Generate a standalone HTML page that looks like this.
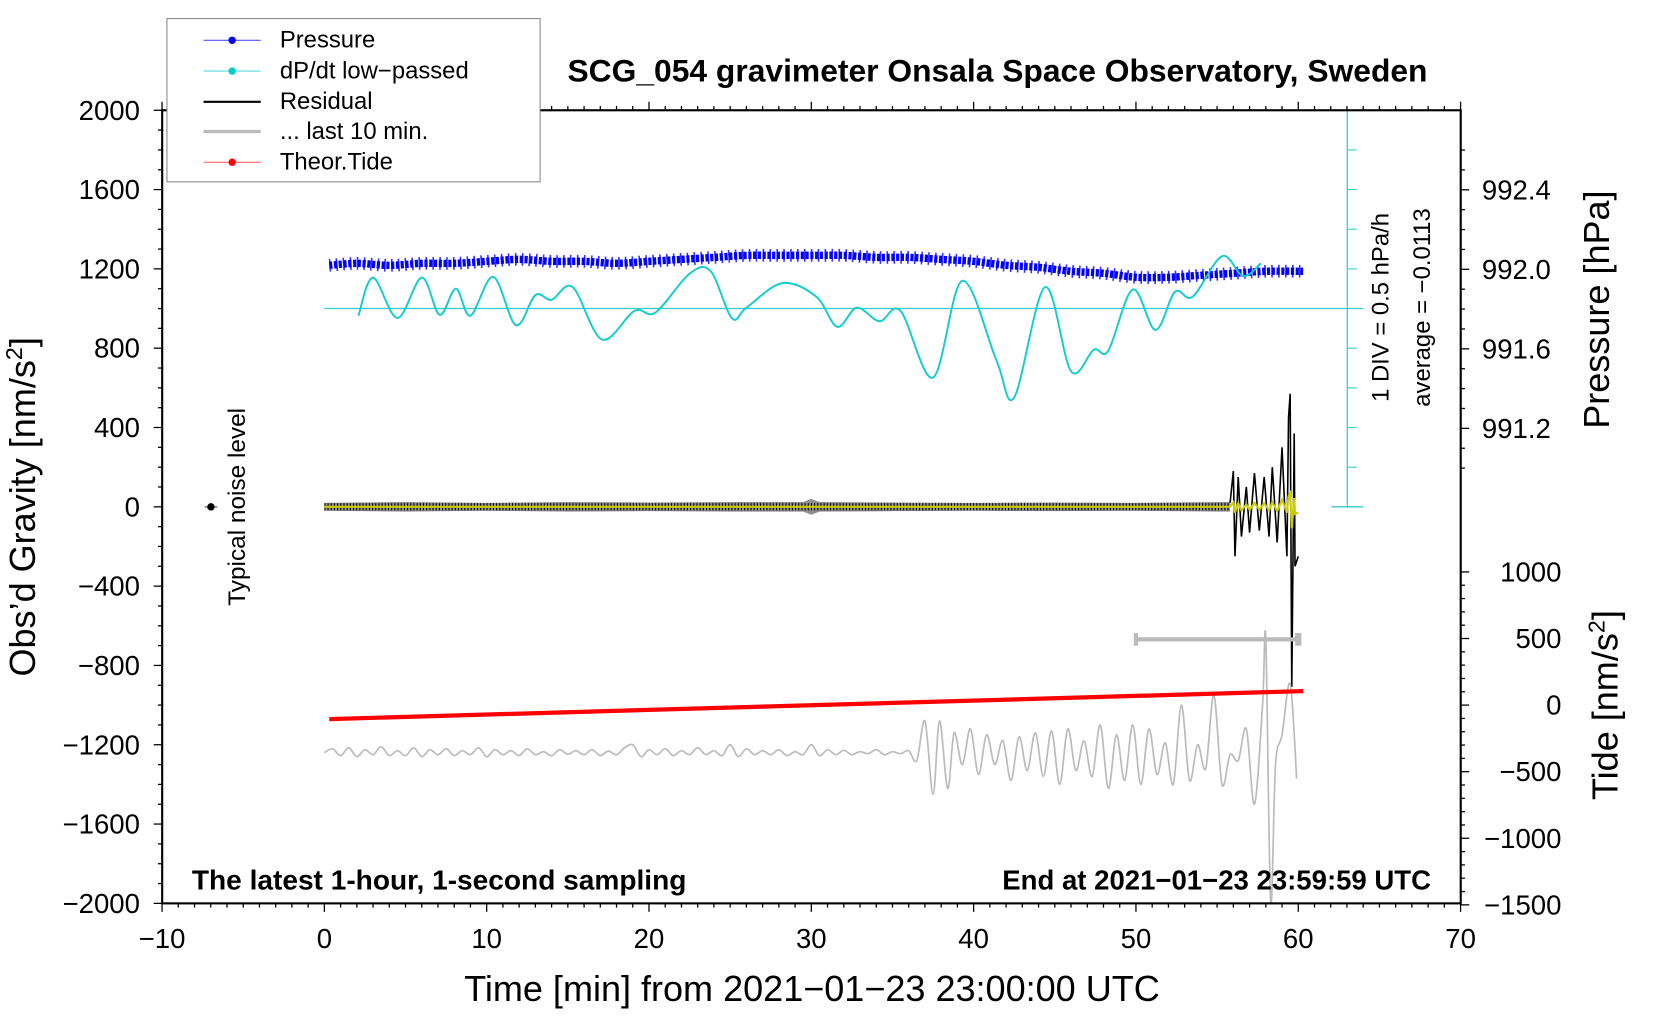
<!DOCTYPE html>
<html><head><meta charset="utf-8"><style>
html,body{margin:0;padding:0;background:#fff}
svg{display:block;font-family:"Liberation Sans",sans-serif}
</style></head><body>
<svg id="chart" width="1660" height="1020" viewBox="0 0 1566 962" preserveAspectRatio="none">
<g id="g-grid"></g>
<g id="g-series"></g>
<g id="g-axes"></g>
<text x="941" y="77" text-anchor="middle" font-size="30" font-weight="bold">SCG_054 gravimeter Onsala Space Observatory, Sweden</text>
<text x="181" y="839" font-size="26.5" font-weight="bold">The latest 1-hour, 1-second sampling</text>
<text x="1350" y="839" text-anchor="end" font-size="26" font-weight="bold">End at 2021−01−23 23:59:59 UTC</text>
<text x="766" y="944" text-anchor="middle" font-size="34">Time [min] from 2021−01−23 23:00:00 UTC</text>
<text transform="translate(33,478) rotate(-90)" text-anchor="middle" font-size="34">Obs’d Gravity [nm/s<tspan baseline-shift="super" font-size="22">2</tspan>]</text>
<text transform="translate(1518,292) rotate(-90)" text-anchor="middle" font-size="34">Pressure [hPa]</text>
<text transform="translate(1526,665) rotate(-90)" text-anchor="middle" font-size="34">Tide [nm/s<tspan baseline-shift="super" font-size="22">2</tspan>]</text>
<text transform="translate(231,478) rotate(-90)" text-anchor="middle" font-size="23">Typical noise level</text>
<text transform="translate(1310,290) rotate(-90)" text-anchor="middle" font-size="22.5">1 DIV = 0.5 hPa/h</text>
<text transform="translate(1349,290) rotate(-90)" text-anchor="middle" font-size="22.5">average = −0.0113</text>
<g>
<rect x="157.5" y="17.5" width="352" height="154" fill="#fff" stroke="#888" stroke-width="1"/>
<line x1="192" y1="38" x2="246" y2="38" stroke="#55f" stroke-width="1"/><circle cx="219" cy="38" r="3.5" fill="#00f"/>
<text x="264" y="45" font-size="22.5">Pressure</text>
<line x1="192" y1="67" x2="246" y2="67" stroke="#5dd" stroke-width="1"/><circle cx="219" cy="67" r="3.5" fill="#0cc"/>
<text x="264" y="74" font-size="22.5">dP/dt low−passed</text>
<line x1="192" y1="96" x2="246" y2="96" stroke="#000" stroke-width="2"/>
<text x="264" y="103" font-size="22.5">Residual</text>
<line x1="192" y1="124" x2="246" y2="124" stroke="#bbb" stroke-width="3"/>
<text x="264" y="131" font-size="22.5">... last 10 min.</text>
<line x1="192" y1="153" x2="246" y2="153" stroke="#f55" stroke-width="1"/><circle cx="219" cy="153" r="3.5" fill="#f00"/>
<text x="264" y="160" font-size="22.5">Theor.Tide</text>
</g>
</svg>
<script>
// ---- data ----
const pressT = [0.3,2,4,6,8,10,12,14,16,18,20,22,24,26,28,30,32,34,36,38,40,42,44,46,48,50,52,54,56,58,60.3];
const pressV = [992.02,992.03,992.02,992.03,992.03,992.04,992.05,992.04,992.04,992.03,992.04,992.05,992.06,992.07,992.07,992.07,992.07,992.06,992.06,992.05,992.04,992.02,992.01,991.99,991.98,991.96,991.96,991.97,991.98,991.99,991.99];
const dpT = [2.1,3.0,4.5,6.0,7.1,8.1,9.0,10.4,11.8,13,14,15.3,17.1,19.1,20.4,22.5,23.8,25.1,26,28.2,30.3,31.6,32.8,34.2,35.5,37.5,39.3,41.4,42.5,44.4,46,47.4,48.3,49.8,51.2,52.4,53.5,55.3,56.6,57.7];
const dpV = [-0.09,0.39,-0.12,0.39,-0.08,0.25,-0.09,0.40,-0.21,0.17,0.11,0.27,-0.39,-0.03,-0.05,0.44,0.47,-0.12,0.01,0.32,0.15,-0.23,0.01,-0.16,-0.03,-0.87,0.35,-0.65,-1.12,0.27,-0.79,-0.52,-0.53,0.24,-0.27,0.21,0.15,0.66,0.41,0.57];
const resT = [0,5,10,15,20,25,29.5,30,30.5,35,40,45,50,55,55.8];
const resAmp = [20,24,20,24,22,24,24,40,24,22,20,22,20,24,24];
const spikeT = [55.8,56.0,56.1,56.3,56.5,56.8,57.0,57.3,57.6,57.9,58.2,58.4,58.7,59.0,59.3,59.4,59.5,59.6,59.75,59.8,60.0];
const spikeV = [20,180,-250,150,-150,100,-130,170,-120,150,-150,200,-180,300,-250,450,570,-909,370,-300,-250];
const tideT = [0.3,60.3];
const tideV = [-105,105];
const greyT = [0,0.5,1,1.5,2,2.5,3,3.5,4,4.5,5,5.5,6,6.5,7,7.5,8,8.5,9,9.5,10,10.5,11,11.5,12,12.5,13,13.5,14,14.5,15,15.5,16,16.5,17,17.5,18,18.5,19,19.5,20,20.5,21,21.5,22,22.5,23,23.5,24,24.5,25,25.5,26,26.5,27,27.5,28,28.5,29,29.5,30,30.5,31,31.5,32,32.5,33,33.5,34,34.5,35,35.5,36,36.5,37,37.5,37.9,38.4,38.8,39.3,39.8,40.3,40.8,41.3,41.8,42.3,42.8,43.3,43.8,44.3,44.8,45.3,45.8,46.3,46.8,47.3,47.8,48.3,48.8,49.3,49.8,50.3,50.8,51.3,51.8,52.3,52.8,53.3,53.8,54.3,54.8,55.3,55.8,56.3,56.8,57.3,57.8,58.0,58.3,58.6,59.0,59.5,59.9];
const greyV = [-1240,-1220,-1255,-1215,-1260,-1225,-1250,-1210,-1255,-1230,-1255,-1215,-1260,-1225,-1250,-1220,-1255,-1230,-1250,-1215,-1260,-1225,-1250,-1230,-1255,-1220,-1250,-1235,-1255,-1225,-1248,-1230,-1250,-1225,-1255,-1232,-1250,-1215,-1200,-1260,-1225,-1250,-1220,-1255,-1230,-1250,-1215,-1250,-1230,-1255,-1200,-1260,-1220,-1250,-1230,-1250,-1225,-1255,-1235,-1250,-1200,-1255,-1225,-1250,-1228,-1250,-1235,-1245,-1225,-1250,-1235,-1245,-1230,-1280,-1080,-1450,-1080,-1420,-1140,-1300,-1120,-1350,-1150,-1300,-1180,-1380,-1160,-1330,-1140,-1360,-1130,-1400,-1120,-1330,-1180,-1360,-1100,-1420,-1150,-1380,-1100,-1400,-1120,-1350,-1190,-1400,-1000,-1380,-1200,-1320,-950,-1400,-1250,-1280,-1120,-1500,-1000,-668,-1989,-1300,-1150,-893,-1370];
const xTicks = [-10,0,10,20,30,40,50,60,70];
const yTicks = [2000,1600,1200,800,400,0,-400,-800,-1200,-1600,-2000];
const pTicks = [992.4,992.0,991.6,991.2];
const tTicks = [1000,500,0,-500,-1000,-1500];

// ---- scales ----
const X = t => 306 + t * 15.3125;
const YL = v => 478 - v * 0.187;
const YP = p => 254 - (p - 992) * 187.5;
const YT = v => 665 - v * 0.1256;
const YD = d => 291 - d * 74.8;
const NS = 'http://www.w3.org/2000/svg';
function mk(tag, attrs, parent) {
  const e = document.createElementNS(NS, tag);
  for (const k in attrs) e.setAttribute(k, attrs[k]);
  parent.appendChild(e);
  return e;
}
const gS = document.getElementById('g-series');
const gA = document.getElementById('g-axes');

function smoothPath(xs, ys) {
  let d = 'M' + xs[0] + ',' + ys[0];
  for (let i = 0; i < xs.length - 1; i++) {
    const x0 = xs[Math.max(i - 1, 0)], y0 = ys[Math.max(i - 1, 0)];
    const x1 = xs[i], y1 = ys[i], x2 = xs[i + 1], y2 = ys[i + 1];
    const x3 = xs[Math.min(i + 2, xs.length - 1)], y3 = ys[Math.min(i + 2, xs.length - 1)];
    d += ' C' + (x1 + (x2 - x0) / 6) + ',' + (y1 + (y2 - y0) / 6) + ' ' + (x2 - (x3 - x1) / 6) + ',' + (y2 - (y3 - y1) / 6) + ' ' + x2 + ',' + y2;
  }
  return d;
}

let e;
e = mk('line', {x1: X(0), y1: YD(0), x2: 1286, y2: YD(0), stroke: '#3cc', 'stroke-width': 1.2}, gS);


e = mk('line', {x1: 1271, y1: 104, x2: 1271, y2: 478, stroke: '#3cc', 'stroke-width': 1.2}, gS);


mk('line', {x1: 1256, y1: 478, x2: 1286, y2: 478, stroke: '#3cc', 'stroke-width': 1.2}, gS);
mk('line', {x1: 1256, y1: 104, x2: 1286, y2: 104, stroke: '#3cc', 'stroke-width': 1.2}, gS);
for (let k = -5; k <= 5; k++) {
  if (k === 0) continue;
  mk('line', {x1: 1271, y1: YD(k * 0.5), x2: 1280, y2: YD(k * 0.5), stroke: '#3cc', 'stroke-width': 1}, gS);
}

// pressure
e = mk('path', {d: smoothPath(pressT.map(X), pressV.map(YP)), fill: 'none', stroke: '#00f', 'stroke-width': 7, 'stroke-dasharray': '3 1.5'}, gS);


e = mk('path', {d: smoothPath(pressT.map(X), pressV.map(YP)), fill: 'none', stroke: '#00f', 'stroke-width': 12, 'stroke-dasharray': '1.5 5', 'stroke-opacity': 0.8}, gS);



// dP/dt
e = mk('path', {d: smoothPath(dpT.map(X), dpV.map(YD)), fill: 'none', stroke: '#1cc', 'stroke-width': 1.8}, gS);



// residual envelope
let pts = resT.map((t, i) => X(t) + ',' + YL(resAmp[i]));
pts = pts.concat(resT.slice().reverse().map((t, j) => X(t) + ',' + YL(-resAmp[resT.length - 1 - j])));
e = mk('polygon', {points: pts.join(' '), fill: '#333', 'fill-opacity': 0.55}, gS);


e = mk('line', {x1: X(0), y1: YL(0), x2: X(55.8), y2: YL(0), stroke: '#000', 'stroke-width': 7, 'stroke-dasharray': '1 2'}, gS);


e = mk('polyline', {points: spikeT.map((t, i) => X(t) + ',' + YL(spikeV[i])).join(' '), fill: 'none', stroke: '#000', 'stroke-width': 1.5}, gS);


e = mk('polyline', {points: spikeT.map((t, i) => X(t) + ',' + YL(spikeV[i] * 0.12)).join(' '), fill: 'none', stroke: '#cc0', 'stroke-width': 2}, gS);


e = mk('line', {x1: X(0), y1: YL(0), x2: X(55.8), y2: YL(0), stroke: '#cc0', 'stroke-width': 2}, gS);



// grey last 10 min
e = mk('path', {d: smoothPath(greyT.map(X), greyV.map(YL)), fill: 'none', stroke: '#bbb', 'stroke-width': 1.6}, gS);


e = mk('line', {x1: X(50), y1: 603, x2: X(60), y2: 603, stroke: '#bbb', 'stroke-width': 4}, gS);


mk('line', {x1: X(50), y1: 597, x2: X(50), y2: 609, stroke: '#bbb', 'stroke-width': 4}, gS);
mk('line', {x1: X(60), y1: 597, x2: X(60), y2: 609, stroke: '#bbb', 'stroke-width': 6}, gS);

// tide
e = mk('polyline', {points: tideT.map((t, i) => X(t) + ',' + YT(tideV[i])).join(' '), fill: 'none', stroke: '#f00', 'stroke-width': 4}, gS);



// noise level marker
mk('line', {x1: 193, y1: 478, x2: 205, y2: 478, stroke: '#888', 'stroke-width': 1.5}, gS);
e = mk('circle', {cx: 199, cy: 478, r: 3.5, fill: '#000'}, gS);



// axes
e = mk('rect', {x: 153, y: 104, width: 1225, height: 748, fill: 'none', stroke: '#000', 'stroke-width': 2}, gA);


for (let t = -10; t <= 70; t++) {
  const maj = t % 10 === 0;
  mk('line', {x1: X(t), y1: 852, x2: X(t), y2: 852 + (maj ? 8 : 4), stroke: '#000', 'stroke-width': 1.2}, gA);
  mk('line', {x1: X(t), y1: 104, x2: X(t), y2: 104 - (maj ? 8 : 4), stroke: '#000', 'stroke-width': 1.2}, gA);
}
xTicks.forEach(t => {
  const tx = mk('text', {x: X(t), y: 894, 'text-anchor': 'middle', 'font-size': 26}, gA);
  tx.textContent = String(t).replace('-', '−');
  
  
});
for (let v = -2000; v <= 2000; v += 100) {
  const maj = v % 400 === 0;
  mk('line', {x1: 153, y1: YL(v), x2: 153 - (maj ? 8 : 4), y2: YL(v), stroke: '#000', 'stroke-width': 1.2}, gA);
}
yTicks.forEach(v => {
  const tx = mk('text', {x: 132, y: YL(v) + 9, 'text-anchor': 'end', 'font-size': 26}, gA);
  tx.textContent = String(v).replace('-', '−');
  
  
});
for (let k = 0; k <= 16; k++) {
  const p = 991.0 + k * 0.1;
  const maj = Math.abs(Math.round(p * 10) % 4) === 0;
  mk('line', {x1: 1378, y1: YP(p), x2: 1378 + (maj ? 8 : 4), y2: YP(p), stroke: '#000', 'stroke-width': 1.2}, gA);
}
pTicks.forEach(p => {
  const tx = mk('text', {x: 1398, y: YP(p) + 9, 'font-size': 26}, gA);
  tx.textContent = p.toFixed(1);
  
  
});
for (let v = -1500; v <= 1000; v += 100) {
  const maj = v % 500 === 0;
  mk('line', {x1: 1378, y1: YT(v), x2: 1378 + (maj ? 8 : 4), y2: YT(v), stroke: '#000', 'stroke-width': 1.2}, gA);
}
tTicks.forEach(v => {
  const tx = mk('text', {x: 1473, y: YT(v) + 9, 'text-anchor': 'end', 'font-size': 26}, gA);
  tx.textContent = String(v).replace('-', '−');
  
  
});
</script>
</body></html>
